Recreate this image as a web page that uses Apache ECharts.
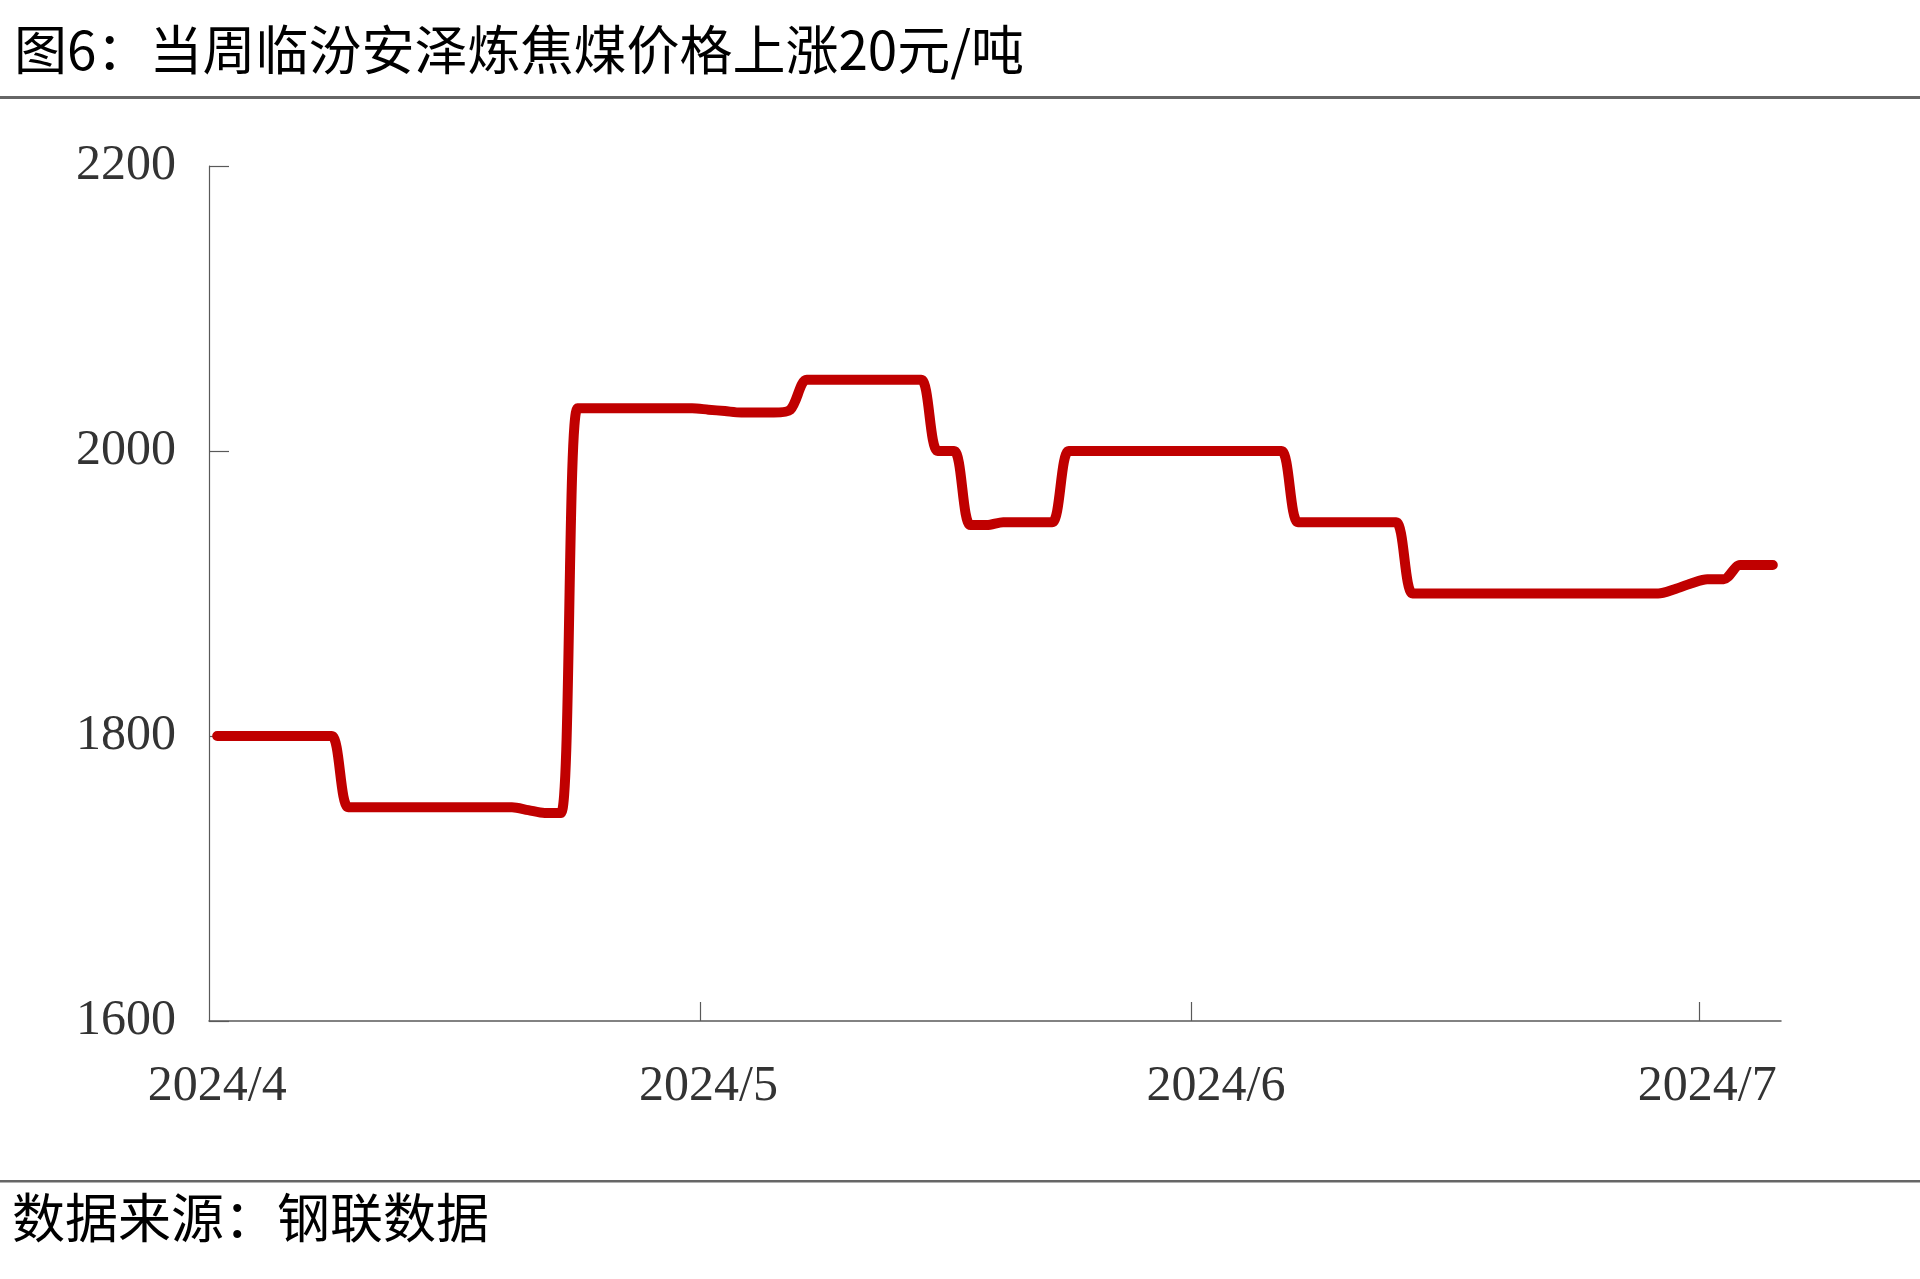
<!DOCTYPE html>
<html>
<head>
<meta charset="utf-8">
<script src="https://cdn.jsdelivr.net/npm/echarts@6/dist/echarts.min.js"></script>
<style>
html,body{margin:0;padding:0;background:#ffffff;}
#chart{width:1920px;height:1279px;}
</style>
</head>
<body>
<div id="chart"></div>
<script>
// ---------- data ----------
const titleText = '图6：当周临汾安泽炼焦煤价格上涨20元/吨';
const sourceText = '数据来源：钢联数据';

const dates = [
  '2024-04-01','2024-04-02','2024-04-03','2024-04-04','2024-04-05','2024-04-06','2024-04-07','2024-04-08','2024-04-09','2024-04-10',
  '2024-04-11','2024-04-12','2024-04-13','2024-04-14','2024-04-15','2024-04-16','2024-04-17','2024-04-18','2024-04-19','2024-04-20',
  '2024-04-21','2024-04-22','2024-04-23','2024-04-24','2024-04-25','2024-04-26','2024-04-27','2024-04-28','2024-04-29','2024-04-30',
  '2024-05-01','2024-05-02','2024-05-03','2024-05-04','2024-05-05','2024-05-06','2024-05-07','2024-05-08','2024-05-09','2024-05-10',
  '2024-05-11','2024-05-12','2024-05-13','2024-05-14','2024-05-15','2024-05-16','2024-05-17','2024-05-18','2024-05-19','2024-05-20',
  '2024-05-21','2024-05-22','2024-05-23','2024-05-24','2024-05-25','2024-05-26','2024-05-27','2024-05-28','2024-05-29','2024-05-30',
  '2024-05-31','2024-06-01','2024-06-02','2024-06-03','2024-06-04','2024-06-05','2024-06-06','2024-06-07','2024-06-08','2024-06-09',
  '2024-06-10','2024-06-11','2024-06-12','2024-06-13','2024-06-14','2024-06-15','2024-06-16','2024-06-17','2024-06-18','2024-06-19',
  '2024-06-20','2024-06-21','2024-06-22','2024-06-23','2024-06-24','2024-06-25','2024-06-26','2024-06-27','2024-06-28','2024-06-29',
  '2024-06-30','2024-07-01','2024-07-02','2024-07-03','2024-07-04','2024-07-05'
];

const prices = [
  1800,1800,1800,1800,1800,1800,1800,1800,
  1750,1750,1750,1750,1750,1750,1750,1750,1750,1750,1750,
  1748,1746,1746,
  2030,2030,2030,2030,2030,2030,2030,2030,
  2029,2028,2027,2027,2027,2029,
  2050,2050,2050,2050,2050,2050,2050,2050,
  2000,2000,
  1948,1948,
  1950,1950,1950,1950,
  2000,2000,2000,2000,2000,2000,2000,2000,2000,2000,2000,2000,2000,2000,
  1950,1950,1950,1950,1950,1950,1950,
  1900,1900,1900,1900,1900,1900,1900,1900,1900,1900,1900,1900,1900,1900,1900,
  1900,1903,1907,1910,1910,1920,1920,1920
];

const xTickLabels = ['2024/4','2024/5','2024/6','2024/7'];
const xLabelDates = ['2024-04-01','2024-05-01','2024-06-01','2024-07-01'];
const xTickDates  = ['2024-05-01','2024-05-31','2024-07-01'];

const yMin = 1600, yMax = 2200, yStep = 200;

// ---------- build ----------
const seriesData = prices.map((v, i) => [i, v]);
const labelIdx = xLabelDates.map(d => dates.indexOf(d));
const tickIdx = xTickDates.map(d => dates.indexOf(d) - 0.5);
const labelMap = {};
labelIdx.forEach((ix, k) => { labelMap[ix] = xTickLabels[k]; });

const chart = echarts.init(document.getElementById('chart'), null, {renderer: 'canvas'});

const axisColor = '#595959';
const labelFont = 'Liberation Serif, Times New Roman, serif';
const cjkFont = 'Noto Sans CJK SC, sans-serif';

chart.setOption({
  backgroundColor: '#ffffff',
  animation: false,
  grid: {left: 209, right: 139, top: 166, bottom: 258, containLabel: false},
  xAxis: {
    type: 'value',
    min: -0.5,
    max: dates.length - 0.5,
    splitLine: {show: false},
    axisLine: {show: true, onZero: false, lineStyle: {color: axisColor, width: 1.5}},
    axisTick: {show: true, inside: true, length: 19, customValues: tickIdx, lineStyle: {color: axisColor, width: 1.2}},
    axisLabel: {
      show: true,
      customValues: labelIdx,
      formatter: v => labelMap[Math.round(v)] || '',
      fontFamily: labelFont,
      fontSize: 50,
      color: '#333333',
      margin: 41
    }
  },
  yAxis: {
    type: 'value',
    min: yMin,
    max: yMax,
    interval: yStep,
    splitLine: {show: false},
    axisLine: {show: true, onZero: false, lineStyle: {color: axisColor, width: 1.2}},
    axisTick: {show: true, inside: true, length: 20, lineStyle: {color: axisColor, width: 1.2}},
    axisLabel: {fontFamily: labelFont, fontSize: 50, color: '#333333', margin: 33, padding: [8, 0, 0, 0], formatter: v => String(v)}
  },
  series: [{
    type: 'line',
    data: seriesData,
    smooth: 0.3,
    symbol: 'none',
    lineStyle: {color: '#C00000', width: 10, cap: 'round', join: 'round'},
    z: 5
  }],
  graphic: [
    {type: 'text', left: 14, top: 23, style: {text: titleText, font: '53px ' + cjkFont, fill: '#000000'}},
    {type: 'rect', shape: {x: 0, y: 96, width: 1920, height: 3}, style: {fill: '#666666'}},
    {type: 'rect', shape: {x: 0, y: 1180, width: 1920, height: 2.5}, style: {fill: '#666666'}},
    {type: 'text', left: 12, top: 1191, style: {text: sourceText, font: '53px ' + cjkFont, fill: '#000000'}}
  ]
});
</script>
</body>
</html>
